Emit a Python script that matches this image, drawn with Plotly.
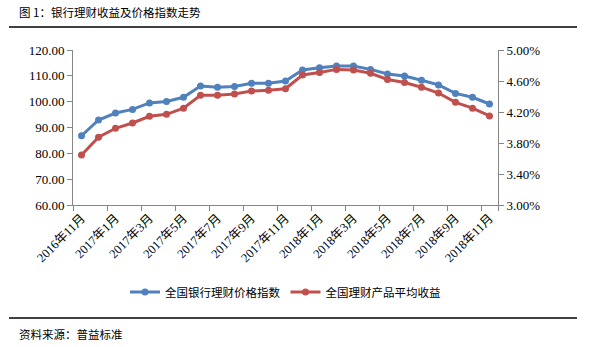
import plotly.graph_objects as go

months = ["2016年11月", "2016年12月",
          "2017年1月", "2017年2月", "2017年3月", "2017年4月", "2017年5月", "2017年6月",
          "2017年7月", "2017年8月", "2017年9月", "2017年10月", "2017年11月", "2017年12月",
          "2018年1月", "2018年2月", "2018年3月", "2018年4月", "2018年5月", "2018年6月",
          "2018年7月", "2018年8月", "2018年9月", "2018年10月", "2018年11月"]

price_index = [86.8, 92.9, 95.6, 97.0, 99.5, 100.1, 101.7, 106.1, 105.6, 105.9,
               107.1, 107.1, 108.0, 112.3, 113.1, 113.8, 113.8, 112.5, 110.7, 109.9,
               108.3, 106.5, 103.2, 101.7, 99.1]

avg_yield = [3.645, 3.874, 3.99, 4.058, 4.144, 4.17, 4.248, 4.415, 4.415, 4.432,
             4.47, 4.48, 4.50, 4.677, 4.71, 4.75, 4.742, 4.70, 4.62, 4.58,
             4.52, 4.445, 4.325, 4.25, 4.15]

name_price = "全国银行理财价格指数"
name_yield = "全国理财产品平均收益"
title_text = "图 1：银行理财收益及价格指数走势"
source_text = "资料来源：普益标准"

W, H = 611, 347
L, R, T, B = 73, 113, 50, 142
pw, ph = W - L - R, H - T - B

def px(x):
    return (x - L) / pw

def py(y):
    return (H - B - y) / ph

FONT = "Liberation Serif, Noto Sans CJK SC, serif"
CJK = "Noto Sans CJK SC, sans-serif"
AX = "#868686"

fig = go.Figure()
fig.add_trace(go.Scatter(x=months, y=price_index, name=name_price, mode="lines+markers",
                         line=dict(color="#4F81BD", width=3),
                         marker=dict(color="#4F81BD", size=7)))
fig.add_trace(go.Scatter(x=months, y=avg_yield, name=name_yield, mode="lines+markers",
                         yaxis="y2",
                         line=dict(color="#C0504D", width=3),
                         marker=dict(color="#C0504D", size=7)))

fig.update_layout(
    width=W, height=H, autosize=False,
    margin=dict(l=L, r=R, t=T, b=B, pad=0),
    paper_bgcolor="white", plot_bgcolor="white",
    font=dict(family=FONT, size=12, color="#000000"),
    showlegend=True,
    legend=dict(orientation="h", x=0.5, xanchor="center", y=py(292), yanchor="middle",
                font=dict(family=CJK, size=11.5, color="#000000"),
                itemwidth=30, tracegroupgap=0, bgcolor="rgba(0,0,0,0)"),
    xaxis=dict(type="category", range=[-0.5, len(months) - 0.5],
               tickmode="array", tickvals=months[::2], ticktext=months[::2],
               tickson="boundaries", ticks="outside", ticklen=5, tickcolor=AX,
               tickangle=-45, showline=True, linecolor=AX, linewidth=1,
               showgrid=False, zeroline=False,
               tickfont=dict(family=FONT, size=12.5, color="#000000")),
    yaxis=dict(range=[60, 120], dtick=10, tick0=60, tickformat=".2f",
               ticks="outside", ticklen=5, tickcolor=AX,
               showline=True, linecolor=AX, linewidth=1,
               showgrid=False, zeroline=False,
               tickfont=dict(family=FONT, size=13, color="#000000")),
    yaxis2=dict(range=[3.0, 5.0], dtick=0.4, tick0=3.0, tickformat=".2f", ticksuffix="%",
                overlaying="y", side="right",
                ticks="outside", ticklen=5, tickcolor=AX,
                showline=True, linecolor=AX, linewidth=1,
                showgrid=False, zeroline=False,
                tickfont=dict(family=FONT, size=13, color="#000000")),
    shapes=[
        dict(type="line", xref="paper", yref="paper", x0=px(9), x1=px(577), y0=py(27), y1=py(27),
             line=dict(color="#000000", width=1.5)),
        dict(type="line", xref="paper", yref="paper", x0=px(9), x1=px(577), y0=py(318), y1=py(318),
             line=dict(color="#000000", width=1.5)),
    ],
    annotations=[
        dict(text=title_text, xref="paper", yref="paper", x=px(17), y=py(12),
             xanchor="left", yanchor="middle", showarrow=False,
             font=dict(family=CJK, size=11.5, color="#000000")),
        dict(text=source_text, xref="paper", yref="paper", x=px(17), y=py(334),
             xanchor="left", yanchor="middle", showarrow=False,
             font=dict(family=CJK, size=11.5, color="#000000")),
    ],
)

fig.write_html("out.html")
